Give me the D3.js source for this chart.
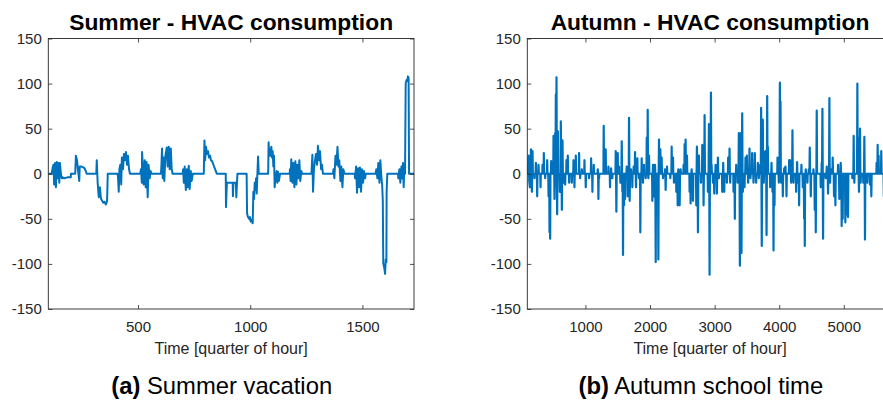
<!DOCTYPE html>
<html>
<head>
<meta charset="utf-8">
<script src="https://cdn.jsdelivr.net/npm/d3@7"></script>
<style>
  html, body { margin: 0; padding: 0; background: #fff; }
  svg { display: block; font-family: "Liberation Sans", Arial, Helvetica, sans-serif; }
</style>
</head>
<body>
<svg id="chart" width="883" height="400"></svg>
<script>
// ---------------- DATA ----------------
const panelTitles = ["Summer - HVAC consumption", "Autumn - HVAC consumption"];
const captionTags = ["(a)", "(b)"];
const captionTexts = [" Summer vacation", " Autumn school time"];
const xAxisLabel = "Time [quarter of hour]";
const yTicks = [-150, -100, -50, 0, 50, 100, 150];
const summerXTicks = [500, 1000, 1500];
const autumnXTicks = [1000, 2000, 3000, 4000, 5000];
const summerDomain = [100, 1730];
const autumnDomain = [100, 5757];

// [time (quarter of hour), HVAC consumption]
const summerSeries = [
  [100,0],[115,0],[119,6],[123,10],[126,-12],[130,12],[134,-15],[138,13],[141,-5],[145,12],[149,-10],[152,12],[156,0],[160,-5],
  [164,-4],[171,-5],[185,-4],[200,-4],[201,0],[220,0],
  [223,20],[228,15],[232,5],[238,-8],[240,8],[248,8],[256,7],[262,6],[267,3],[271,0],[314,0],
  [316,15],[320,-10],[325,-26],[330,-15],[335,-28],[340,-30],[345,-32],[350,-31],[357,-34],[362,-30],[365,0],[409,0],
  [411,-5],[414,-20],[417,5],[421,10],[425,-12],[428,18],[433,5],[437,22],[442,15],[446,24],[451,10],[455,20],[460,5],[464,0],[510,0],
  [513,5],[517,-10],[518,24],[522,5],[525,-12],[530,15],[534,-15],[538,13],[543,-26],[547,10],[552,-5],[556,3],[559,0],[602,0],
  [604,8],[607,28],[610,-5],[613,18],[617,-8],[622,20],[628,29],[632,8],[637,30],[641,5],[646,28],[650,5],[654,0],[699,0],
  [701,5],[704,-10],[708,8],[713,-18],[717,5],[721,-15],[726,9],[730,-17],[735,3],[739,-8],[744,0],[793,0],
  [796,37],[799,15],[803,30],[807,22],[812,25],[816,18],[821,20],[825,15],[830,14],[836,10],[842,6],[848,2],[851,0],[891,0],
  [892,-37],[896,-10],[910,-10],[922,-10],[923,-25],[925,-10],[936,-10],[938,-26],[941,-10],[943,0],[984,0],
  [986,-44],[990,-48],[995,-50],[999,-48],[1002,-53],[1006,-51],[1011,-55],[1014,-20],[1017,-28],[1020,-10],[1023,-18],[1026,-5],[1029,-22],[1032,0],[1035,19],[1038,0],[1080,0],
  [1082,35],[1085,20],[1088,27],[1091,20],[1094,30],[1097,18],[1100,25],[1103,8],[1106,20],[1109,-15],[1113,-5],[1118,3],[1121,-10],[1124,2],[1128,-8],[1133,0],[1176,0],
  [1177,5],[1180,-8],[1183,16],[1188,-10],[1192,12],[1197,-15],[1201,14],[1206,-12],[1210,10],[1215,-5],[1219,15],[1223,-8],[1228,3],[1231,0],[1273,0],
  [1274,5],[1277,21],[1280,-20],[1284,5],[1289,15],[1293,22],[1298,10],[1302,31],[1307,15],[1311,25],[1316,5],[1320,10],[1324,0],[1369,0],
  [1371,5],[1375,-5],[1380,20],[1384,10],[1389,30],[1393,8],[1397,15],[1402,-8],[1406,8],[1411,-15],[1415,5],[1420,0],[1466,0],
  [1467,-5],[1472,8],[1476,-21],[1481,6],[1485,-15],[1489,7],[1494,-20],[1498,5],[1503,-10],[1507,3],[1512,-5],[1515,0],[1559,0],
  [1562,5],[1567,-5],[1571,12],[1576,-10],[1580,15],[1585,-5],[1588,-12],[1591,-30],[1593,-99],[1598,-105],[1601,-111],[1604,-95],[1607,-98],[1608,-20],[1611,0],[1659,0],
  [1660,-5],[1665,5],[1669,-10],[1674,8],[1677,-5],[1681,12],[1684,-15],[1687,10],[1690,0],
  [1693,100],[1697,104],[1700,103],[1703,108],[1706,106],[1708,0],[1730,0]
];

const autumnSeries = [
  [100,0],[110,0],[120,20],[130,-8],[140,-15],[148,0],[152,0],[156,27],[164,0],[167,0],[171,-20],[176,0],[178,0],[181,25],[186,0],
  [208,0],[212,-5],[216,0],[229,0],[233,12],[237,0],[249,0],[253,-25],[257,0],[270,0],[274,10],[278,0],
  [301,0],[305,-15],[309,0],[332,0],[336,10],[340,0],[352,0],[356,23],[360,0],[373,0],[377,-5],[381,0],
  [404,0],[408,15],[412,0],[425,0],[429,-25],[433,0],[440,0],[444,-65],[449,-30],[454,-72],[458,0],[466,0],[470,14],[474,0],
  [502,0],[506,42],[512,0],[517,0],[521,-28],[526,0],[528,0],[532,45],[537,0],[542,88],[547,20],[552,107],[557,0],[562,-45],[567,0],[573,47],[578,0],
  [600,0],[604,-20],[608,0],[615,0],[619,58],[624,0],[631,0],[635,-40],[640,0],[645,37],[650,0],[656,0],[660,-10],[664,0],
  [682,0],[686,-12],[690,0],[703,0],[707,15],[711,0],[723,0],[727,20],[731,0],[744,0],[748,-10],[752,0],
  [785,0],[789,-10],[793,0],[811,0],[815,15],[819,0],[826,0],[830,-15],[834,0],[847,0],[851,20],[855,0],
  [898,0],[902,23],[906,0],[914,0],[918,-5],[922,0],[940,0],[944,5],[948,0],[981,0],[985,15],[989,0],[1001,0],[1005,-15],[1009,0],
  [1053,0],[1057,-5],[1061,0],[1084,0],[1088,17],[1092,0],[1104,0],[1108,-20],[1112,0],[1125,0],[1129,10],[1133,0],
  [1187,0],[1191,5],[1196,0],[1201,-28],[1206,0],[1211,-5],[1215,0],
  [1279,0],[1283,53],[1288,0],[1294,10],[1298,0],[1310,0],[1314,27],[1318,0],
  [1352,0],[1356,8],[1360,0],[1377,0],[1381,-15],[1385,0],[1393,0],[1397,6],[1401,0],[1413,0],[1417,-5],[1421,0],
  [1465,0],[1469,25],[1474,0],[1479,-42],[1484,0],[1496,0],[1500,23],[1504,0],[1516,0],[1520,8],[1524,0],[1537,0],[1541,-10],[1545,0],
  [1558,0],[1562,36],[1567,0],[1572,-20],[1577,0],[1582,-90],[1587,0],[1594,0],[1598,-35],[1603,0],[1609,0],[1613,-28],[1617,0],
  [1635,0],[1639,8],[1643,0],[1650,0],[1654,-25],[1658,0],[1671,0],[1675,62],[1680,0],[1685,-30],[1690,0],[1702,0],[1706,5],[1710,0],
  [1722,0],[1726,-15],[1730,0],[1743,0],[1747,8],[1751,0],[1764,0],[1768,24],[1772,0],[1779,0],[1783,-15],[1787,0],[1800,0],[1804,17],[1808,0],
  [1825,0],[1829,-5],[1833,0],[1846,0],[1850,-65],[1855,0],[1867,0],[1871,17],[1875,0],[1887,0],[1891,-10],[1896,0],
  [1903,0],[1907,10],[1911,0],[1929,0],[1933,-5],[1937,0],[1945,0],[1949,40],[1955,0],[1960,0],[1964,71],[1969,0],[1974,-5],[1979,0],[1981,0],[1985,20],[1989,0],
  [2032,0],[2036,-30],[2041,0],[2047,10],[2052,0],[2058,0],[2062,-25],[2067,0],[2073,0],[2077,10],[2082,0],[2088,-98],[2093,0],
  [2104,0],[2108,-20],[2113,0],[2124,0],[2129,-95],[2134,0],[2139,38],[2144,0],[2156,0],[2160,27],[2165,0],[2176,0],[2180,18],[2185,0],[2197,0],[2201,-5],[2205,0],
  [2228,0],[2232,5],[2237,0],[2242,-18],[2247,0],[2259,0],[2263,8],[2267,0],
  [2310,0],[2314,-5],[2318,0],[2331,0],[2335,30],[2340,0],[2352,0],[2356,18],[2360,0],[2367,0],[2371,-10],[2375,0],
  [2403,0],[2407,-20],[2412,0],[2424,0],[2428,-35],[2433,0],[2438,5],[2442,0],[2455,0],[2459,-35],[2464,0],[2470,0],[2474,5],[2478,0],
  [2516,0],[2520,10],[2524,0],[2532,0],[2536,33],[2541,0],[2547,0],[2551,38],[2556,0],[2568,0],[2572,20],[2577,0],
  [2609,0],[2613,-20],[2618,0],[2624,0],[2628,-33],[2633,0],[2640,0],[2644,5],[2648,0],[2661,0],[2665,-30],[2670,0],
  [2712,0],[2716,-35],[2721,0],[2726,30],[2731,0],[2737,0],[2742,-65],[2747,0],[2753,0],[2757,20],[2762,0],
  [2784,0],[2788,-10],[2792,0],[2805,0],[2809,32],[2814,0],[2825,0],[2829,-35],[2834,0],[2840,0],[2845,65],[2850,0],
  [2892,0],[2896,-20],[2901,0],[2907,0],[2912,55],[2917,0],[2922,-112],[2927,0],[2938,0],[2943,90],[2948,0],[2953,10],[2957,0],
  [2970,0],[2974,-10],[2978,0],[2990,0],[2994,-22],[2999,0],[3011,0],[3015,10],[3019,0],[3031,0],[3035,-22],[3040,0],[3047,0],[3051,18],[3056,0],[3062,0],[3066,-5],[3070,0],
  [3114,0],[3118,-20],[3123,0],[3129,0],[3133,12],[3137,0],[3145,0],[3149,-20],[3154,0],
  [3186,0],[3190,-10],[3194,0],[3206,0],[3210,18],[3215,0],[3227,0],[3231,28],[3236,0],[3241,-10],[3245,0],
  [3289,0],[3293,-20],[3298,0],[3308,0],[3313,-50],[3318,0],[3330,0],[3334,10],[3338,0],[3351,0],[3355,-10],[3359,0],
  [3370,0],[3375,45],[3380,0],[3386,0],[3391,-102],[3396,0],[3401,0],[3406,45],[3411,0],[3416,-88],[3421,0],[3427,67],[3432,0],[3437,-20],[3442,0],
  [3459,0],[3463,-15],[3468,0],[3474,0],[3478,18],[3483,0],[3495,0],[3499,20],[3504,0],[3515,0],[3519,-10],[3523,0],[3536,0],[3540,28],[3545,0],
  [3551,0],[3555,-5],[3559,0],[3577,0],[3581,23],[3586,0],[3598,0],[3602,-10],[3606,0],[3618,0],[3622,23],[3627,0],[3639,0],[3643,-10],[3647,0],
  [3665,0],[3669,12],[3673,0],[3680,0],[3684,-5],[3688,0],[3701,0],[3705,10],[3709,0],[3715,0],[3720,73],[3725,0],[3730,-80],[3735,0],[3741,0],[3746,60],[3751,0],[3757,0],[3761,-10],[3765,0],
  [3768,24],[3773,0],[3784,0],[3788,25],[3793,0],[3799,0],[3804,-68],[3809,0],[3814,86],[3819,0],[3824,30],[3829,0],
  [3856,0],[3860,-15],[3865,0],[3877,0],[3881,12],[3885,0],[3892,0],[3896,-20],[3901,0],[3907,0],[3912,-85],[3917,0],[3922,0],[3927,-35],[3932,0],
  [3970,0],[3974,18],[3979,0],[3990,0],[3994,-10],[3998,0],[4005,0],[4010,101],[4015,0],[4020,80],[4025,0],[4030,-10],[4034,0],
  [4052,0],[4056,-25],[4061,0],[4073,0],[4077,6],[4081,0],[4093,0],[4097,8],[4101,0],[4108,0],[4113,-25],[4118,0],
  [4150,0],[4154,15],[4159,0],[4165,0],[4169,15],[4174,0],[4181,0],[4185,-10],[4189,0],[4200,0],[4205,48],[4210,0],[4217,0],[4221,-10],[4225,0],
  [4258,0],[4262,-20],[4267,0],[4273,0],[4277,13],[4281,0],[4289,0],[4293,-10],[4297,0],[4303,0],[4308,-35],[4313,0],
  [4340,0],[4344,10],[4348,0],[4361,0],[4365,-15],[4370,0],[4381,0],[4386,-50],[4391,0],[4396,-80],[4401,0],[4407,0],[4411,5],[4415,0],
  [4433,0],[4437,-10],[4441,0],[4454,0],[4458,5],[4462,0],[4468,0],[4473,29],[4478,0],[4484,0],[4489,-25],[4494,0],
  [4526,0],[4530,5],[4534,0],[4545,0],[4550,-40],[4555,0],[4561,0],[4566,-65],[4571,0],[4576,0],[4581,70],[4586,0],
  [4639,0],[4643,-15],[4648,0],[4654,0],[4658,12],[4663,0],[4669,72],[4674,0],[4679,-72],[4684,0],
  [4716,0],[4720,-5],[4724,0],[4732,0],[4736,8],[4740,0],[4751,0],[4756,-22],[4761,0],[4772,0],[4777,84],[4782,0],[4787,-10],[4791,0],
  [4804,0],[4808,5],[4812,0],[4824,0],[4828,18],[4833,0],[4844,0],[4849,-25],[4854,0],[4865,0],[4870,-35],[4875,0],
  [4907,0],[4911,10],[4915,0],[4926,0],[4931,-28],[4936,0],[4947,0],[4952,12],[4957,0],[4962,0],[4967,-58],[4972,0],[4978,0],[4983,-50],[4988,0],
  [5019,0],[5024,-54],[5029,0],[5040,0],[5045,-45],[5050,0],[5060,0],[5065,-48],[5070,0],
  [5128,0],[5132,-5],[5136,0],[5148,0],[5153,42],[5158,0],[5163,-10],[5167,0],
  [5205,0],[5210,100],[5215,0],[5220,40],[5225,0],[5230,0],[5235,-20],[5240,0],[5246,0],[5251,50],[5256,0],[5261,-10],[5265,0],
  [5298,0],[5302,-10],[5306,0],[5313,0],[5318,41],[5323,0],[5328,-73],[5333,0],[5339,0],[5343,-5],[5347,0],[5360,0],[5364,-10],[5368,0],
  [5401,0],[5405,-12],[5409,0],[5421,0],[5426,-25],[5431,0],
  [5504,0],[5508,12],[5512,0],[5519,0],[5524,32],[5529,0],[5535,0],[5539,20],[5543,0],[5576,0],[5580,25],[5585,0],[5615,0],[5620,-25],[5625,0],[5660,0]
];

// ---------------- LAYOUT ----------------
const svg = d3.select("#chart");
const lineColor = "#0072BD";
const axisColor = "#262626";
const yRange = [309, 38.5];

const panels = [
  { series: summerSeries, domain: summerDomain, ticks: summerXTicks, x0: 48.3, x1: 414, capX: 221.7, lw: 2 },
  { series: autumnSeries, domain: autumnDomain, ticks: autumnXTicks, x0: 527.3, x1: 892.7, capX: 700.8, lw: 2.2 }
];

const fmt = d => String(d);

panels.forEach((p, i) => {
  const x = d3.scaleLinear().domain(p.domain).range([p.x0, p.x1]);
  const y = d3.scaleLinear().domain([-150, 150]).range(yRange);
  const g = svg.append("g");

  const clipId = "clip" + i;
  svg.append("defs").append("clipPath").attr("id", clipId)
    .append("rect").attr("x", p.x0).attr("y", yRange[1])
    .attr("width", p.x1 - p.x0).attr("height", yRange[0] - yRange[1]);

  // data line
  const line = d3.line().x(d => x(d[0])).y(d => y(d[1]));
  g.append("path").datum(p.series)
    .attr("clip-path", `url(#${clipId})`)
    .attr("fill", "none").attr("stroke", lineColor)
    .attr("stroke-width", p.lw).attr("stroke-linejoin", "round")
    .attr("d", line);

  // axes (inward ticks on all four sides)
  const styleAxis = sel => {
    sel.select(".domain").remove();
    sel.selectAll(".tick line").attr("stroke", axisColor).attr("stroke-width", 0.8);
    sel.selectAll(".tick text").attr("fill", axisColor).style("font-size", "15px")
      .style("font-family", "'Liberation Sans', Arial, sans-serif");
  };
  g.append("g").attr("transform", `translate(0,${yRange[0]})`)
    .call(d3.axisBottom(x).tickValues(p.ticks).tickFormat(fmt).tickSizeInner(-4).tickSizeOuter(0).tickPadding(12))
    .call(styleAxis);
  g.append("g").attr("transform", `translate(0,${yRange[1]})`)
    .call(d3.axisTop(x).tickValues(p.ticks).tickFormat("").tickSizeInner(-4).tickSizeOuter(0))
    .call(styleAxis);
  g.append("g").attr("transform", `translate(${p.x0},0)`)
    .call(d3.axisLeft(y).tickValues(yTicks).tickFormat(fmt).tickSizeInner(-4).tickSizeOuter(0).tickPadding(6.5))
    .call(styleAxis);
  g.append("g").attr("transform", `translate(${p.x1},0)`)
    .call(d3.axisRight(y).tickValues(yTicks).tickFormat("").tickSizeInner(-4).tickSizeOuter(0))
    .call(styleAxis);

  // box
  g.append("rect").attr("x", p.x0).attr("y", yRange[1])
    .attr("width", p.x1 - p.x0).attr("height", yRange[0] - yRange[1])
    .attr("fill", "none").attr("stroke", axisColor).attr("stroke-width", 0.9);

  // title
  g.append("text").attr("x", (p.x0 + p.x1) / 2).attr("y", 30)
    .attr("text-anchor", "middle").attr("font-weight", "bold")
    .style("font-size", "22.8px").attr("fill", "#000")
    .text(panelTitles[i]);

  // x label
  g.append("text").attr("x", (p.x0 + p.x1) / 2).attr("y", 354)
    .attr("text-anchor", "middle").style("font-size", "16px").attr("fill", axisColor)
    .text(xAxisLabel);

  // caption
  const cap = g.append("text").attr("x", p.capX).attr("y", 394)
    .attr("text-anchor", "middle").style("font-size", "23.8px").attr("fill", "#000");
  cap.append("tspan").attr("font-weight", "bold").text(captionTags[i]);
  cap.append("tspan").text(captionTexts[i]);
});
</script>
</body>
</html>
